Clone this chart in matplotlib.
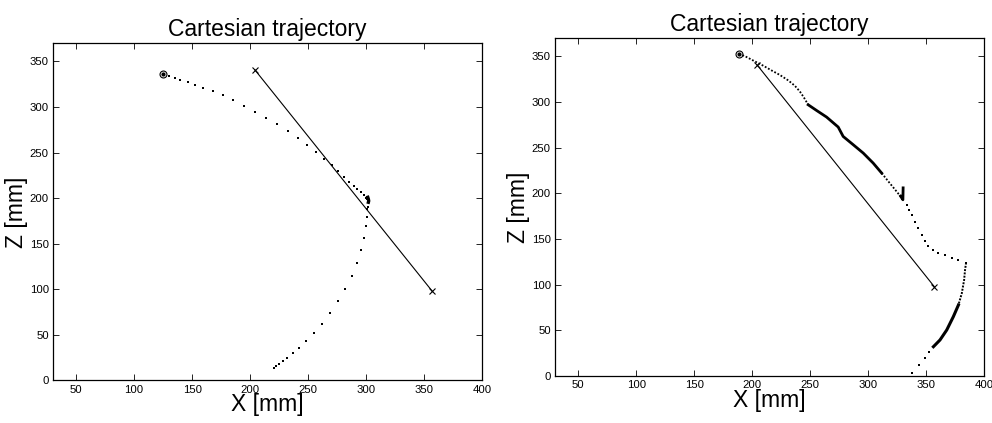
import matplotlib.pyplot as plt

plt.rcParams['font.family'] = ['Liberation Sans', 'DejaVu Sans']

# straight reference line between the two x markers (same in both panels)
ref_x = [204, 357]
ref_z = [341, 98]

# left panel: sampled trajectory (dots)
left_x = [124.5, 130.3, 135.2, 139.8, 146.1, 152.5, 159.7, 167.7, 176.3, 185.6,
          195.1, 204.6, 213.8, 223.3, 232.5, 241.1, 249.5, 257.0, 263.5, 270.2,
          276.0, 281.1, 285.7, 289.5, 292.6, 295.5, 297.8, 300.2, 301.0, 301.5,
          301.8, 302.0, 301.5, 300.4, 300.7, 299.8, 298.1, 295.8, 292.3, 288.0,
          282.2, 275.9, 269.3, 262.4, 255.2, 248.6, 242.3, 236.7, 231.9, 228.5,
          225.3, 222.4, 220.7]
left_z = [335.8, 334.3, 332.1, 329.9, 327.0, 324.4, 321.1, 317.1, 312.7, 307.3,
          301.4, 294.9, 288.3, 281.0, 273.6, 266.0, 258.3, 250.6, 243.0, 236.0,
          229.4, 223.2, 218.1, 213.8, 209.7, 206.4, 203.5, 200.6, 199.5, 198.4,
          197.0, 195.5, 190.3, 187.8, 179.4, 169.2, 156.4, 143.2, 129.0, 114.7,
          100.1, 86.6, 74.1, 62.1, 51.9, 43.1, 35.4, 29.6, 24.5, 20.8,
          17.9, 15.3, 13.9]
left_start = (124.5, 335.8)

# right panel: trajectory pieces
r_dot1_x = [188.7, 195.1, 202.3, 209.5, 216.7, 223.9, 231.1, 236.8, 241.1, 244.6, 248.3]
r_dot1_z = [352.9, 349.3, 344.5, 339.8, 334.6, 329.6, 323.7, 317.8, 311.6, 305.0, 297.0]
r_thick1_x = [248.3, 255.5, 264.2, 274.2, 278.5, 287.2, 295.8, 304.4, 311.7]
r_thick1_z = [297.0, 290.8, 283.5, 272.6, 262.3, 253.2, 244.1, 233.1, 222.2]
r_dot2_x = [311.7, 318.2, 324.6, 329.8]
r_dot2_z = [222.2, 211.9, 202.0, 193.7]
r_hook_x = [328.0, 330.0, 330.2]
r_hook_z = [197.0, 193.0, 206.0]
r_sparse1_x = [333.3, 335.6, 337.6, 340.5, 343.3, 346.2, 349.1, 351.9, 356.3, 360.6,
               366.3, 372.1, 377.9, 384.5]
r_sparse1_z = [187.4, 181.9, 176.5, 169.1, 161.9, 154.5, 148.3, 142.5, 138.1, 135.1,
               132.3, 129.7, 127.1, 124.2]
r_dot3_x = [384.5, 383.6, 382.8, 380.8, 377.9]
r_dot3_z = [124.2, 116.2, 105.2, 90.6, 77.8]
r_thick2_x = [377.9, 373.5, 367.8, 362.0, 356.3]
r_thick2_z = [77.8, 65.0, 50.4, 39.5, 32.1]
r_sparse2_x = [352.8, 349.1, 344.2, 337.6]
r_sparse2_z = [26.6, 19.4, 12.1, 3.0]
right_start = (188.7, 352.9)

x_ticks = [50, 100, 150, 200, 250, 300, 350, 400]
z_ticks = [0, 50, 100, 150, 200, 250, 300, 350]

fig = plt.figure(figsize=(9.92, 4.23), dpi=100)
ax1 = fig.add_axes([0.0534, 0.1007, 0.4325, 0.797])
ax2 = fig.add_axes([0.5595, 0.111, 0.4325, 0.799])

def style_axes(ax):
    ax.set_xlim(30, 400)
    ax.set_ylim(0, 370)
    ax.set_xticks(x_ticks)
    ax.set_yticks(z_ticks)
    ax.tick_params(direction='in', length=4, width=0.6, top=True, right=True,
                   labelsize=8.2, pad=3)
    for s in ax.spines.values():
        s.set_linewidth(0.9)
    ax.set_title("Cartesian trajectory", fontsize=16.5, pad=5)
    ax.set_xlabel("X [mm]", fontsize=16.5, labelpad=-1)
    ax.set_ylabel("Z [mm]", fontsize=16.5, labelpad=1)

for ax in (ax1, ax2):
    ax.plot(ref_x, ref_z, color='black', linewidth=0.8)
    ax.plot(ref_x, ref_z, linestyle='none', marker='x', color='black',
            markersize=5, markeredgewidth=0.8)

# left panel
ax1.plot(left_x, left_z, linestyle='none', marker='s', markersize=1.9,
         color='black', markeredgewidth=0)
ax1.plot([301.5, 302, 302.3, 302], [201, 199, 197, 195.5], color='black', linewidth=2.4)
ax1.plot(*left_start, marker='o', markersize=5, markerfacecolor='none',
         markeredgecolor='black', markeredgewidth=0.8)
ax1.plot(*left_start, marker='o', markersize=2, color='black')

# right panel
ax2.plot(r_dot1_x, r_dot1_z, color='black', linestyle=(0, (1, 1)), linewidth=1.3)
ax2.plot(r_thick1_x, r_thick1_z, color='black', linewidth=2.0)
ax2.plot(r_dot2_x, r_dot2_z, color='black', linestyle=(0, (1, 1)), linewidth=1.3)
ax2.plot(r_hook_x, r_hook_z, color='black', linewidth=2.0)
ax2.plot(r_sparse1_x, r_sparse1_z, linestyle='none', marker='s', markersize=1.8,
         color='black', markeredgewidth=0)
ax2.plot(r_dot3_x, r_dot3_z, color='black', linestyle=(0, (1, 0.7)), linewidth=1.4)
ax2.plot(r_thick2_x, r_thick2_z, color='black', linewidth=2.2)
ax2.plot(r_sparse2_x, r_sparse2_z, linestyle='none', marker='s', markersize=1.8,
         color='black', markeredgewidth=0)
ax2.plot(*right_start, marker='o', markersize=5, markerfacecolor='none',
         markeredgecolor='black', markeredgewidth=0.8)
ax2.plot(*right_start, marker='o', markersize=2, color='black')

style_axes(ax1)
style_axes(ax2)

fig.savefig("out.png", dpi=100)
